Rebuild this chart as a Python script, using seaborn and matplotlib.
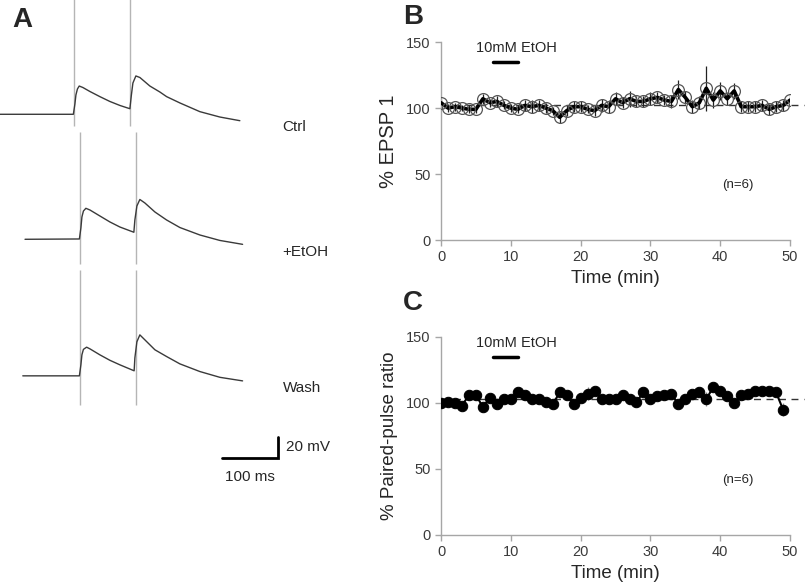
import matplotlib
matplotlib.use("Agg")
import matplotlib.pyplot as plt
import seaborn as sns
import numpy as np
import pandas as pd

sns.set_style("white")
plt.rcParams['font.family'] = ['Liberation Sans', 'DejaVu Sans']

# ---------- panel A: example traces (time in ms from 1st stimulus, mV from baseline) ----------
ctrl_t = [-132, -1, 1.8, 3.6, 6.3, 9.5, 16, 28.6, 46.4, 64.3, 82.2, 100, 102.7, 105.4, 110.7,
          117.9, 135.7, 153.6, 165.6, 189.3, 225, 260.7, 296.4]
ctrl_v = [0, 0, 9.8, 18.4, 24.1, 26.9, 25.5, 21.7, 16.8, 12.2, 8.4, 5.3, 18.4, 29.8, 36.5,
          35, 26.9, 21.2, 16.8, 10.8, 2.5, -2.6, -6.1]
etoh_t = [-98, -0.9, 1.8, 3.6, 6.3, 10.7, 17.9, 35.7, 53.6, 71.4, 96.4, 98.2, 101.8, 107.1,
          116, 134, 154.8, 178.6, 214.3, 250, 290.6]
etoh_v = [0, 0.3, 10.8, 21.2, 26.9, 29.5, 27.9, 22.2, 16.5, 11.7, 6.7, 18.4, 31.7, 37.9,
          34.6, 26, 18.4, 11.2, 4.1, -1.1, -4.8]
wash_t = [-102, -0.9, 1.8, 3.6, 6.3, 12, 17.9, 35.7, 53.6, 71.4, 96.9, 98.2, 101.8, 107.1,
          116, 134, 154.8, 178.6, 214.3, 250, 290.6]
wash_v = [0, 0, 10.5, 20, 25.2, 27.3, 25.7, 20, 14.8, 10.5, 4.8, 17.1, 32.4, 39,
          34.3, 24.8, 18.4, 11.4, 4.1, -1.4, -4.8]
trace_names = ["Ctrl", "+EtOH", "Wash"]
stim_times = [0, 100]                      # ms, paired pulse
artifact_top = [110, 102, 101]             # mV above baseline
artifact_bottom = [-11, -24, -28]          # mV below baseline

# ---------- panel B: % EPSP 1 ----------
time_b = list(range(0, 51))
epsp = [104, 100, 101, 100, 99, 99, 107, 104, 105, 102, 100, 99, 102, 101, 102, 100, 98, 93,
        98, 101, 101, 99, 98, 102, 101, 107, 104, 107, 105, 105, 107, 108, 106, 105, 114, 108,
        101, 104, 115, 106, 113, 107, 113, 101, 101, 101, 102, 99, 101, 102, 106]
epsp_err = [3, 3, 3, 2, 3, 3, 4, 3, 4, 3, 3, 3, 4, 5, 4, 4, 3, 4, 4, 4, 4, 3, 4, 5, 5, 5, 4, 6,
            4, 4, 5, 4, 4, 5, 7, 5, 5, 5, 17, 6, 7, 5, 6, 4, 4, 4, 4, 4, 4, 4, 5]

# ---------- panel C: % paired-pulse ratio ----------
time_c = list(range(0, 50))
ppr = [100, 101, 100, 98, 106, 106, 97, 104, 99, 103, 103, 108, 106, 103, 103, 101, 99, 108,
       106, 99, 104, 107, 109, 103, 103, 103, 106, 103, 101, 108, 103, 105, 106, 107, 99, 103,
       107, 108, 103, 112, 109, 105, 100, 106, 107, 109, 109, 109, 108, 95]
ppr_err = [2] * 21 + [5] + [2] * 16 + [5] + [2] * 10 + [5]

baseline_b = 102
baseline_c = 103
etoh_on, etoh_off = 7.5, 11

fig = plt.figure(figsize=(8.07, 5.87), dpi=100)

# ===== A =====
axA = fig.add_axes([0, 0.1652, 0.4089, 0.8348])
x_shift = [0, 10.7, 10.7]
y_off = [0, -119, -249]
traces = [(ctrl_t, ctrl_v), (etoh_t, etoh_v), (wash_t, wash_v)]
for i, (tt, vv) in enumerate(traces):
    for s in stim_times:
        axA.vlines(s + x_shift[i] + (0.5 if s else 0), y_off[i] + artifact_bottom[i],
                   y_off[i] + artifact_top[i], color="#b5b5b5", lw=1)
    d = pd.DataFrame({"t": np.array(tt) + x_shift[i], "v": np.array(vv) + y_off[i]})
    sns.lineplot(data=d, x="t", y="v", sort=False, estimator=None, color="#3a3a3a",
                 lw=1.0, ax=axA)
    axA.text(373, y_off[i] - 12, trace_names[i], fontsize=11, va="center", ha="left")
axA.plot([264, 364, 364], [-327, -327, -307], color="black", lw=2, solid_joinstyle="miter")
axA.text(378, -317, "20 mV", fontsize=11, va="center")
axA.text(314, -339, "100 ms", fontsize=11, va="top", ha="center")
axA.set_xlim(-132, 457.4)
axA.set_ylim(-357.7, 108.8)
axA.axis("off")

# ===== B and C =====
def style_axis(ax):
    sns.despine(ax=ax)
    for sp in ["left", "bottom"]:
        ax.spines[sp].set_color("#a6a6a6")
        ax.spines[sp].set_linewidth(1)
    ax.set_xlim(0, 50)
    ax.set_ylim(0, 150)
    ax.set_xticks([0, 10, 20, 30, 40, 50])
    ax.set_yticks([0, 50, 100, 150])
    ax.tick_params(direction="out", length=4, width=1, color="#a6a6a6",
                   labelsize=10.5, labelcolor="#3a3a3a", left=True, bottom=True)
    ax.set_xlabel("Time (min)", fontsize=13.5, labelpad=4)

axB = fig.add_axes([0.5465, 0.5911, 0.4325, 0.3373])
axB.plot([0, 52], [baseline_b, baseline_b], ls=(0, (5, 4)), color="#333333", lw=1,
         clip_on=False, zorder=1)
axB.errorbar(time_b, epsp, yerr=epsp_err, fmt="none", ecolor="#222222", elinewidth=0.9,
             zorder=2)
sns.lineplot(x=time_b, y=epsp, color="black", lw=2.6, marker="o", markersize=8.5,
             markerfacecolor="none", markeredgecolor="#555555", markeredgewidth=0.9,
             ax=axB, zorder=3)
axB.plot([etoh_on, etoh_off], [135, 135], color="black", lw=2.5)
axB.text(5.0, 140, "10mM EtOH", fontsize=10.5, va="bottom")
axB.text(40.3, 42, "(n=6)", fontsize=9.5, va="center")
axB.set_ylabel("% EPSP 1", fontsize=14.5, labelpad=6)
style_axis(axB)

axC = fig.add_axes([0.5465, 0.0886, 0.4325, 0.3373])
axC.plot([0, 52], [baseline_c, baseline_c], ls=(0, (5, 4)), color="#333333", lw=1,
         clip_on=False, zorder=1)
axC.errorbar(time_c, ppr, yerr=ppr_err, fmt="none", ecolor="#888888", elinewidth=0.9,
             zorder=2)
sns.lineplot(x=time_c, y=ppr, color="black", lw=1.5, marker="o", markersize=7.5,
             markerfacecolor="black", markeredgecolor="black", ax=axC, zorder=3)
axC.plot([etoh_on, etoh_off], [135, 135], color="black", lw=2.5)
axC.text(5.0, 140, "10mM EtOH", fontsize=10.5, va="bottom")
axC.text(40.3, 42, "(n=6)", fontsize=9.5, va="center")
axC.set_ylabel("% Paired-pulse ratio", fontsize=13.5, labelpad=6)
style_axis(axC)

fig.text(12 / 807, 1 - 20 / 587, "A", fontsize=20, fontweight="bold", va="center")
fig.text(403 / 807, 1 - 17 / 587, "B", fontsize=20, fontweight="bold", va="center")
fig.text(403 / 807, 1 - 303 / 587, "C", fontsize=20, fontweight="bold", va="center")

fig.savefig("out.png", dpi=100)
